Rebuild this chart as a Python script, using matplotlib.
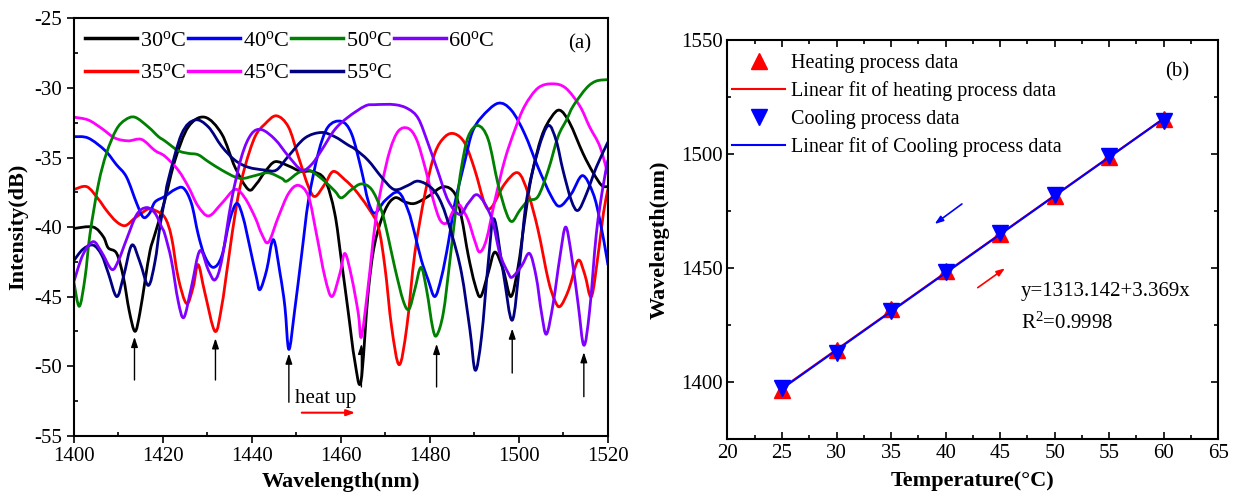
import numpy as np
import matplotlib
matplotlib.use("Agg")
import matplotlib.pyplot as plt
from matplotlib.path import Path
from matplotlib.patches import PathPatch
from matplotlib.lines import Line2D
from matplotlib.ticker import MultipleLocator

plt.rcParams['font.family'] = ['Liberation Serif', 'DejaVu Serif']
plt.rcParams['mathtext.fontset'] = 'custom'
plt.rcParams['mathtext.rm'] = 'Liberation Serif'
plt.rcParams['mathtext.it'] = 'Liberation Serif:italic'
plt.rcParams['mathtext.bf'] = 'Liberation Serif:bold'
plt.rcParams['axes.unicode_minus'] = False

# ---------------- data: panel (a) spectra ----------------
x30 = [1400, 1404.3, 1406.6, 1407.7, 1409.6, 1411.1, 1412.4, 1413.7, 1414.8, 1416, 1417.1, 1418.2, 1420.4,
       1422.7, 1425.7, 1429.4, 1433.2, 1436.2, 1439.2, 1441, 1443, 1445.2, 1448.2, 1451, 1453.5, 1456.4,
       1458.6, 1460.1, 1461.6, 1463.1, 1464.5, 1466.1, 1467.6, 1469.9, 1472.1, 1474.4, 1476.6, 1479.6,
       1483.0, 1485.6, 1487.1, 1488.6, 1490.1, 1491.4, 1493.1, 1494.6, 1496.5, 1498.2, 1499.8, 1501.3,
       1502.8, 1505.1, 1507.3, 1509.2, 1511.4, 1514.4, 1516.7, 1518.6, 1520]
y30 = [-40.1, -40.0, -40.7, -41.5, -41.9, -43.6, -46.0, -47.5, -46.2, -43.8, -41.7, -40.5, -38.1,
       -35.2, -32.8, -32.1, -33.3, -35.7, -37.3, -36.9, -36.0, -35.3, -35.6, -36.0, -36.0, -36.6,
       -39.0, -42.4, -46.0, -49.6, -51.1, -44.8, -41.2, -38.8, -37.9, -38.2, -38.3, -37.8,
       -37.1, -37.6, -39.3, -42.0, -44.1, -45.0, -43.3, -41.8, -43.1, -45.0, -42.9, -39.5,
       -36.4, -33.5, -32.1, -31.6, -32.5, -34.7, -36.1, -37.0, -37.1]

x35 = [1400, 1402.9, 1405.5, 1407.3, 1409.5, 1411.5, 1413.5, 1414.8, 1416.7, 1418.2, 1420.4, 1421.9,
       1423.4, 1425.3, 1426.8, 1427.9, 1429.4, 1431.7, 1433.2, 1434.7, 1436.6, 1438.4, 1440.7, 1442.9,
       1445.5, 1448.2, 1450.4, 1452.7, 1454.2, 1456.4, 1458.3, 1460.9, 1463.1, 1466.1, 1468.4, 1469.9,
       1471.4, 1473.1, 1474.8, 1476.6, 1478.9, 1481.1, 1483.4, 1485.6, 1487.9, 1490.1, 1492.3, 1493.8,
       1496.8, 1499.8, 1502.1, 1504.3, 1506.6, 1508.1, 1509.3, 1511.2, 1513.3, 1514.8, 1516.3, 1517.8,
       1519.0, 1520]
y35 = [-37.3, -37.1, -38.0, -38.8, -39.6, -39.9, -39.4, -39.1, -38.7, -38.8, -39.3, -40.7,
       -43.6, -45.5, -44.3, -42.7, -44.7, -47.5, -45.7, -42.4, -38.3, -35.7, -33.5, -32.6,
       -32.0, -32.8, -34.9, -37.1, -37.8, -36.9, -36.0, -36.6, -37.3, -38.6, -40.0, -42.9,
       -47.2, -49.9, -47.2, -41.9, -37.6, -34.7, -33.5, -33.3, -34.0, -35.9, -38.3, -38.6,
       -36.9, -36.1, -37.6, -40.2, -43.8, -45.3, -45.7, -44.5, -42.4, -43.4, -45.0, -42.0,
       -39.0, -37.3]

x40 = [1400, 1403.2, 1407.0, 1409.5, 1411.8, 1414.1, 1415.6, 1417.0, 1418.2, 1420.4, 1422.7, 1424.6,
       1426.4, 1427.9, 1429.4, 1431.3, 1433.2, 1435.0, 1436.6, 1438.0, 1439.5, 1441.0, 1441.8, 1443.3,
       1444.8, 1446.3, 1447.4, 1448.3, 1449.6, 1451.2, 1452.7, 1454.9, 1457.1, 1460.1, 1462.4, 1464.6,
       1466.1, 1467.6, 1469.9, 1472.9, 1475.1, 1476.6, 1478.1, 1479.6, 1481.1, 1482.6, 1484.1, 1485.6,
       1487.9, 1489.5, 1491.6, 1495.3, 1498.3, 1501.3, 1504.3, 1507.3, 1509.2, 1511.8, 1514.3, 1516.7,
       1518.2, 1519.7, 1520]
y40 = [-33.5, -33.6, -34.5, -35.5, -36.4, -38.3, -39.3, -39.0, -38.2, -37.8, -37.3, -37.2,
       -38.3, -40.5, -42.1, -42.9, -42.1, -39.5, -38.3, -39.3, -41.4, -43.6, -44.5, -43.1,
       -40.9, -43.3, -45.7, -48.8, -46.0, -41.9, -38.1, -34.7, -32.8, -32.4, -33.3, -35.9,
       -38.1, -39.0, -38.1, -37.5, -38.8, -40.5, -42.4, -43.8, -45.0, -43.6, -41.2, -38.3,
       -35.2, -33.2, -32.1, -31.1, -31.6, -33.3, -35.7, -37.8, -38.5, -37.6, -36.3, -37.6,
       -39.5, -42.1, -42.7]

x45 = [1400, 1403.2, 1406.2, 1409.2, 1412.2, 1415.2, 1418.2, 1420.4, 1423.4, 1425.7, 1427.9, 1430.3,
       1433.2, 1436.2, 1438.4, 1440.7, 1442.2, 1443.7, 1445.9, 1448.2, 1450.4, 1452.7, 1454.5, 1456.4,
       1458.0, 1459.8, 1460.9, 1462.4, 1463.9, 1464.6, 1466.1, 1467.6, 1469.1, 1471.0, 1472.9, 1475.1,
       1477.0, 1478.9, 1480.8, 1482.3, 1483.8, 1485.3, 1486.4, 1487.1, 1488.6, 1490.1, 1491.2, 1492.7,
       1494.6, 1496.8, 1499.1, 1501.3, 1504.3, 1507.5, 1510.5, 1513.7, 1515.9, 1518.2, 1520]
y45 = [-32.1, -32.3, -32.9, -33.6, -33.8, -33.7, -34.5, -34.9, -35.9, -37.1, -38.5, -39.2,
       -38.3, -37.3, -37.9, -39.3, -40.5, -41.1, -39.3, -37.6, -37.0, -37.8, -40.5, -43.6,
       -45.0, -43.3, -41.9, -43.6, -46.2, -47.9, -44.3, -40.0, -37.1, -34.5, -33.1, -32.9,
       -33.7, -35.7, -38.1, -39.5, -39.7, -38.8, -38.4, -38.6, -39.5, -41.0, -41.8, -40.9,
       -38.1, -35.2, -33.0, -31.3, -30.0, -29.7, -30.0, -31.3, -32.8, -34.2, -36.2]

x50 = [1400, 1401.2, 1402.5, 1403.6, 1405.5, 1407.3, 1409.5, 1411.5, 1413.7, 1416.7, 1419.0, 1420.4,
       1423.4, 1425.7, 1427.9, 1430.2, 1433.2, 1436.2, 1438.1, 1440.7, 1443.7, 1446.7, 1447.8, 1450.4,
       1452.7, 1455.6, 1458.6, 1460.1, 1462.4, 1464.6, 1466.9, 1469.1, 1470.6, 1472.1, 1474.0, 1475.3,
       1476.6, 1478.0, 1479.3, 1480.6, 1481.5, 1483.0, 1484.5, 1486.0, 1487.1, 1488.6, 1490.8, 1493.1,
       1495.3, 1497.2, 1498.5, 1500.2, 1502.1, 1504.3, 1506.6, 1508.8, 1510.7, 1512.2, 1515.2, 1517.4,
       1520]
y50 = [-44.0, -45.7, -43.6, -40.5, -36.9, -34.7, -33.0, -32.3, -32.1, -32.8, -33.5, -33.8,
       -34.5, -34.7, -34.8, -35.3, -35.9, -36.4, -36.5, -36.3, -36.1, -36.5, -36.7, -36.1,
       -35.9, -36.5, -37.4, -37.9, -37.3, -36.9, -37.3, -38.8, -40.7, -42.9, -45.3, -45.9,
       -44.5, -42.9, -44.6, -47.2, -47.8, -46.2, -42.4, -38.3, -35.7, -33.5, -32.7, -33.7,
       -36.9, -39.0, -39.6, -38.8, -38.1, -37.8, -35.9, -33.5, -32.3, -31.3, -30.0, -29.5,
       -29.4]

x55 = [1400, 1402.0, 1404.3, 1406.2, 1407.7, 1409.6, 1411.1, 1413.0, 1414.8, 1416.7, 1418.2, 1419.3,
       1420.4, 1421.2, 1424.2, 1427.2, 1430.2, 1433.2, 1436.2, 1439.2, 1442.9, 1445.5, 1448.2, 1451.9,
       1455.6, 1458.6, 1461.6, 1463.2, 1466.1, 1469.1, 1471.4, 1472.9, 1475.1, 1477.4, 1480.4, 1482.6,
       1484.9, 1487.1, 1489.0, 1490.2, 1491.6, 1493.1, 1494.4, 1496.5, 1498.5, 1500.2, 1501.7, 1504.3,
       1506.6, 1508.4, 1509.9, 1511.8, 1513.3, 1515.2, 1517.4, 1520]
y55 = [-42.4, -41.6, -41.3, -42.0, -43.3, -45.0, -43.6, -41.3, -42.5, -44.2, -42.5, -40.0,
       -38.0, -36.6, -33.3, -32.3, -32.8, -34.2, -35.2, -35.7, -35.9, -35.9, -34.9, -33.6,
       -33.2, -33.5, -34.1, -34.4, -35.2, -36.4, -37.2, -37.3, -37.0, -36.7, -37.2, -38.3,
       -40.5, -43.3, -47.4, -50.3, -47.9, -42.6, -39.4, -43.3, -46.7, -42.6, -38.1, -34.5,
       -32.7, -33.8, -35.9, -38.1, -38.8, -37.6, -35.7, -33.9]

x60 = [1400, 1402.0, 1404.3, 1406.2, 1408.5, 1410.0, 1411.8, 1414.1, 1416.3, 1418.2, 1419.7, 1420.4,
       1421.9, 1423.4, 1424.7, 1426.4, 1428.3, 1430.2, 1431.7, 1433.2, 1435.4, 1437.7, 1439.9, 1442.2,
       1445.2, 1448.2, 1451.2, 1453.4, 1455.6, 1458.6, 1461.6, 1465.4, 1467.6, 1472.1, 1475.1, 1477.4,
       1479.6, 1481.9, 1484.1, 1486.7, 1488.6, 1490.8, 1493.8, 1495.7, 1497.6, 1498.5, 1500.6, 1502.4,
       1503.9, 1505.1, 1506.2, 1507.7, 1509.2, 1510.5, 1511.8, 1513.3, 1514.6, 1515.9, 1517.4, 1518.9,
       1520]
y60 = [-43.9, -42.0, -41.05, -41.8, -43.05, -42.4, -40.9, -39.1, -38.6, -39.0, -40.0, -40.5,
       -42.4, -45.3, -46.5, -44.3, -41.7, -43.1, -43.8, -42.4, -38.1, -34.9, -33.3, -33.0,
       -33.7, -34.9, -35.9, -35.5, -34.5, -33.0, -32.1, -31.3, -31.2, -31.2, -31.5, -32.2,
       -34.0, -36.1, -38.1, -39.1, -38.3, -37.7, -39.3, -41.9, -43.3, -43.6, -42.8, -41.9,
       -43.6, -46.2, -47.7, -45.5, -42.2, -40.0, -42.0, -45.5, -48.5, -46.0, -40.5, -37.1,
       -35.2]

series_labels = ['30', '35', '40', '45', '50', '55', '60']
series_x = [x30, x35, x40, x45, x50, x55, x60]
series_y = [y30, y35, y40, y45, y50, y55, y60]
series_colors = ['#000000', '#ff0000', '#0000ff', '#ff00ff', '#008000', '#000080', '#8000ff']

# dips marked by arrows: (wavelength, arrow tip, arrow tail)
arrow_nm = [1413.6, 1431.8, 1448.3, 1464.6, 1481.5, 1498.5, 1514.6]
arrow_tip = [-47.9, -48.0, -49.1, -48.4, -48.4, -47.3, -49.0]
arrow_tail = [-51.0, -51.0, -52.6, -51.5, -51.5, -50.5, -52.2]

# ---------------- data: panel (b) ----------------
temps = [25, 30, 35, 40, 45, 50, 55, 60]
heating = [1396.6, 1414.0, 1431.9, 1448.8, 1465.0, 1481.6, 1498.6, 1515.2]
cooling = [1397.2, 1412.8, 1431.3, 1448.2, 1465.5, 1482.0, 1498.9, 1514.4]

# ---------------- figure ----------------
fig = plt.figure(figsize=(12.33, 4.99), dpi=100)
axA = fig.add_axes([0.060, 0.127, 0.433, 0.836])
axB = fig.add_axes([0.590, 0.120, 0.398, 0.800])


def smooth_path(x, y):
    pts = np.column_stack([np.asarray(x, float), np.asarray(y, float)])
    n = len(pts)
    verts = [pts[0]]
    codes = [Path.MOVETO]
    for i in range(n - 1):
        p0 = pts[i - 1] if i > 0 else pts[i]
        p1 = pts[i]
        p2 = pts[i + 1]
        p3 = pts[i + 2] if i + 2 < n else pts[i + 1]
        verts += [p1 + (p2 - p0) / 6.0, p2 - (p3 - p1) / 6.0, p2]
        codes += [Path.CURVE4] * 3
    return Path(verts, codes)


handles = []
for lab, xs, ys, col in zip(series_labels, series_x, series_y, series_colors):
    assert len(xs) == len(ys), lab
    patch = PathPatch(smooth_path(xs, ys), fill=False, edgecolor=col, lw=2.0,
                      capstyle='round', joinstyle='round')
    axA.add_patch(patch)
    handles.append(Line2D([], [], color=col, lw=2.5, label=lab + r'$^{\mathrm{o}}$C'))

for xn, tip, tail in zip(arrow_nm, arrow_tip, arrow_tail):
    axA.annotate('', xy=(xn, tip), xytext=(xn, tail),
                 arrowprops=dict(arrowstyle='-|>,head_length=0.6,head_width=0.2',
                                 color='black', lw=1.0, shrinkA=0, shrinkB=0))

axA.text(1449.6, -52.3, 'heat up', fontsize=15, ha='left', va='center')
axA.annotate('', xy=(1463.2, -53.35), xytext=(1451.2, -53.35),
             arrowprops=dict(arrowstyle='-|>,head_length=0.5,head_width=0.18',
                             color='red', lw=1.5, shrinkA=0, shrinkB=0))
axA.text(1513.7, -26.8, '(a)', fontsize=15, ha='center', va='center')

axA.set_xlim(1400, 1520)
axA.set_ylim(-55, -25)
axA.xaxis.set_major_locator(MultipleLocator(20))
axA.xaxis.set_minor_locator(MultipleLocator(10))
axA.yaxis.set_major_locator(MultipleLocator(5))
axA.yaxis.set_minor_locator(MultipleLocator(2.5))
axA.tick_params(which='major', direction='out', length=5, width=1.2, labelsize=15)
axA.tick_params(which='minor', direction='in', length=3, width=1.2)
axA.set_xlabel('Wavelength(nm)', fontsize=16, fontweight='bold', labelpad=4)
axA.set_ylabel('Intensity(dB)', fontsize=16, fontweight='bold', labelpad=4)
for s in axA.spines.values():
    s.set_linewidth(1.5)

# legend: columns filled top->bottom
leg = axA.legend(handles=handles, ncol=4, loc='upper left', bbox_to_anchor=(0.021, 0.972),
                 frameon=False, fontsize=16, handlelength=2.35, handletextpad=0.1,
                 columnspacing=0.1, labelspacing=0.55, borderaxespad=0, borderpad=0)

# panel (b)
ch = np.polyfit(temps, heating, 1)
cc = np.polyfit(temps, cooling, 1)
tfit = np.array([temps[0], temps[-1]], float)
axB.plot(temps, heating, linestyle='none', marker='^', color='#ff0000', markersize=11,
         label='Heating process data', zorder=3)
axB.plot(tfit, np.polyval(ch, tfit), color='#ff0000', lw=1.5,
         label='Linear fit of heating process data', zorder=4)
axB.plot(temps, cooling, linestyle='none', marker='v', color='#0000ff', markersize=11,
         label='Cooling process data', zorder=5)
axB.plot(tfit, np.polyval(cc, tfit), color='#0000ff', lw=1.5,
         label='Linear fit of Cooling process data', zorder=6)

axB.annotate('', xy=(39.0, 1469.3), xytext=(41.5, 1478.1),
             arrowprops=dict(arrowstyle='-|>,head_length=0.5,head_width=0.18',
                             color='blue', lw=1.2, shrinkA=0, shrinkB=0))
axB.annotate('', xy=(45.45, 1449.9), xytext=(42.95, 1441.4),
             arrowprops=dict(arrowstyle='-|>,head_length=0.5,head_width=0.18',
                             color='red', lw=1.2, shrinkA=0, shrinkB=0))
axB.text(46.9, 1439.6, 'y=1313.142+3.369x', fontsize=15, ha='left', va='center')
axB.text(46.9, 1426.0, r'R$^2$=0.9998', fontsize=15, ha='left', va='center')
axB.text(61.2, 1536.0, '(b)', fontsize=15, ha='center', va='center')

axB.set_xlim(20, 65)
axB.set_ylim(1375, 1550)
axB.xaxis.set_major_locator(MultipleLocator(5))
axB.xaxis.set_minor_locator(MultipleLocator(2.5))
axB.yaxis.set_major_locator(MultipleLocator(50))
axB.yaxis.set_minor_locator(MultipleLocator(25))
axB.tick_params(which='both', direction='in', top=True, right=True, width=1.2, labelsize=15)
axB.tick_params(which='major', length=5)
axB.tick_params(which='minor', length=3)
axB.set_xlabel('Temperature(\u00b0C)', fontsize=16, fontweight='bold', labelpad=6)
axB.set_ylabel('Wavelength(nm)', fontsize=16, fontweight='bold', labelpad=8)
for s in axB.spines.values():
    s.set_linewidth(1.5)
axB.legend(loc='upper left', bbox_to_anchor=(0.01, 0.965), frameon=False, fontsize=14.5,
           handlelength=2.6, handletextpad=0.3, labelspacing=0.42, borderaxespad=0, borderpad=0,
           numpoints=1)

fig.savefig('out.png', dpi=100)
